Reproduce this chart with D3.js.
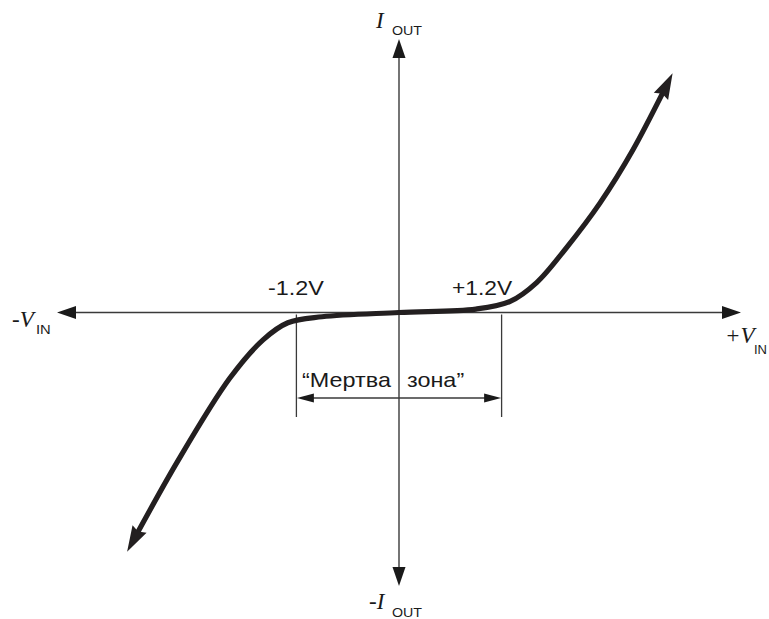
<!DOCTYPE html>
<html><head><meta charset="utf-8">
<script src="https://cdn.jsdelivr.net/npm/d3@7"></script>
<style>html,body{margin:0;padding:0;background:#fff;}svg{display:block;}</style>
</head><body>
<script>
// Data: transfer characteristic of amplifier with dead zone (V_in in volts, I_out arbitrary units)
const vIn  = [-3.18,-2.60,-1.98,-1.59,-1.30,-0.90,0,0.90,1.30,1.61,1.96,2.35,2.74,3.20];
const iOut = [-2.80,-1.76,-0.77,-0.32,-0.12,-0.05,0,0.04,0.13,0.35,0.76,1.28,1.91,2.80];
const deadZone = [-1.2, 1.2];
const deadZoneLabels = ["-1.2V", "+1.2V"];
const zoneText = ["\u201CМертва", "зона\u201D"];

const W = 769, H = 619;
const x = d3.scaleLinear().domain([-4, 4]).range([57, 741]);
const y = d3.scaleLinear().domain([-3.2, 3.2]).range([586, 39]);

const svg = d3.select("body").append("svg").attr("width", W).attr("height", H);
const axisColor = "#3a3a3a", curveColor = "#231f20";

function arrowHead(g, tipX, tipY, ang, len, hw, notch, color) {
  const p = [[0,0],[-len,-hw],[-len+notch,0],[-len,hw]];
  g.append("path")
    .attr("d", "M" + p.map(d => d.join(",")).join("L") + "Z")
    .attr("transform", `translate(${tipX},${tipY}) rotate(${ang*180/Math.PI})`)
    .attr("fill", color);
}

// Axes
const ax = svg.append("g");
const x0 = x(0), y0 = y(0);
ax.append("line").attr("x1", x(-4)+10).attr("x2", x(4)-10).attr("y1", y0).attr("y2", y0)
  .attr("stroke", axisColor).attr("stroke-width", 1.4);
ax.append("line").attr("x1", x0).attr("x2", x0).attr("y1", y(3.2)+10).attr("y2", y(-3.2)-10)
  .attr("stroke", axisColor).attr("stroke-width", 1.4);
arrowHead(ax, x(4), y0, 0, 19, 6.5, 0, "#1a1a1a");
arrowHead(ax, x(-4), y0, Math.PI, 19, 6.5, 0, "#1a1a1a");
arrowHead(ax, x0, y(3.2), -Math.PI/2, 19, 6.5, 0, "#1a1a1a");
arrowHead(ax, x0, y(-3.2), Math.PI/2, 19, 6.5, 0, "#1a1a1a");

// Dead-zone dimension lines
const dz = svg.append("g");
const dimY = 398;
deadZone.forEach(v => {
  dz.append("line").attr("x1", x(v)).attr("x2", x(v)).attr("y1", y0 + 2).attr("y2", 417)
    .attr("stroke", axisColor).attr("stroke-width", 1.3);
});
dz.append("line").attr("x1", x(deadZone[0]) + 8).attr("x2", x(deadZone[1]) - 8).attr("y1", dimY).attr("y2", dimY)
  .attr("stroke", axisColor).attr("stroke-width", 1.4);
arrowHead(dz, x(deadZone[0]) + 0.5, dimY, Math.PI, 17, 4.5, 0, "#1a1a1a");
arrowHead(dz, x(deadZone[1]) - 0.5, dimY, 0, 17, 4.5, 0, "#1a1a1a");

// Curve
const pts = vIn.map((v, i) => [x(v), y(iOut[i])]);
const line = d3.line().curve(d3.curveCatmullRom.alpha(0.5));
const path = svg.append("path").attr("d", line(pts))
  .attr("fill", "none").attr("stroke", curveColor).attr("stroke-width", 5.2).attr("stroke-linejoin", "round");
const L = path.node().getTotalLength();
const aLen = 26;
path.attr("stroke-dasharray", `0,${aLen-4},${L-2*(aLen-4)},${aLen}`);
const tipS = path.node().getPointAtLength(0), baseS = path.node().getPointAtLength(aLen);
const tipE = path.node().getPointAtLength(L), baseE = path.node().getPointAtLength(L - aLen);
arrowHead(svg, tipS.x, tipS.y, Math.atan2(tipS.y - baseS.y, tipS.x - baseS.x), aLen, 8, 3, curveColor);
arrowHead(svg, tipE.x, tipE.y, Math.atan2(tipE.y - baseE.y, tipE.x - baseE.x), aLen, 8, 3, curveColor);

// Labels
const serif = "'Liberation Serif', 'Times New Roman', serif";
const sans = "'Liberation Sans', Arial, sans-serif";
const t = svg.append("g").attr("fill", "#1a1a1a");
function lab(tx, ty, s, size, fam, italic, sx) {
  t.append("text").attr("transform", `translate(${tx},${ty}) scale(${sx || 1},1)`).text(s)
    .attr("font-size", size).attr("font-family", fam)
    .attr("font-style", italic ? "italic" : "normal");
}
lab(376, 28, "I", 23, serif, true);
lab(392, 35, "OUT", 12.5, sans, false, 1.14);
lab(12, 327, "-V", 23, serif, true);
lab(36, 334, "IN", 13, sans, false, 1.14);
lab(725, 343, "+V", 23, serif, true);
lab(754, 354, "IN", 13, sans, false);
lab(369, 609, "-I", 23, serif, true);
lab(392, 617, "OUT", 12.5, sans, false, 1.14);
lab(268, 295, deadZoneLabels[0], 20, sans, false, 1.17);
lab(452, 295, deadZoneLabels[1], 20, sans, false, 1.14);
lab(302, 387, zoneText[0], 20, sans, false, 1.17);
lab(407, 387, zoneText[1], 20, sans, false, 1.17);
</script>
</body></html>
